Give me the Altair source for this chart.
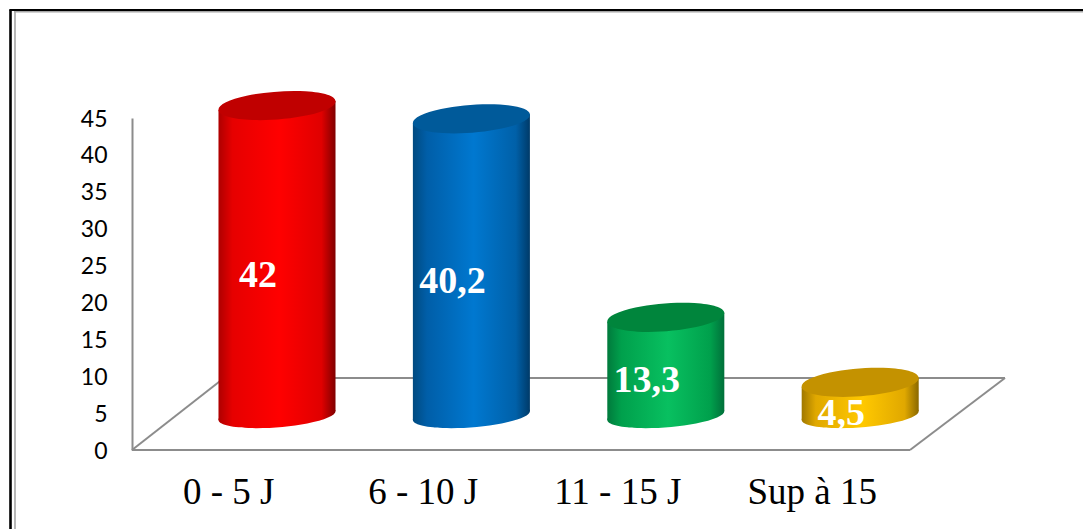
import altair as alt
import pandas as pd

CATEGORIES = ["0 - 5 J", "6 - 10 J", "11 - 15 J", "Sup à 15"]
VALUES = [42, 40.2, 13.3, 4.5]
VALUE_LABELS = ["42", "40,2", "13,3", "4,5"]
Y_TICKS = [0, 5, 10, 15, 20, 25, 30, 35, 40, 45]

# Horizontal shading of each cylinder, left edge to right edge, then its cap colour
SHADES = [
    (["#ae0000", "#e60000", "#ff0000", "#e00000", "#800000"], "#c00000"),
    (["#004a80", "#005ea8", "#0078d0", "#0060a8", "#003a68"], "#005a9a"),
    (["#007a3c", "#00a04c", "#08c060", "#00a04c", "#00703a"], "#00853c"),
    (["#a07800", "#e0a800", "#ffc800", "#e0a800", "#8a6800"], "#c49200"),
]
STOP_OFFSETS = [0, 0.12, 0.52, 0.88, 1]

W, H = 1083, 529
BODY_HALF = 0.301   # half a cylinder, in category slots
TILT = 0.61         # rise of the rim across a cylinder, in value units
LINE = "#8c8c8c"

# Tilted ellipses for the caps and the slightly flatter rounded bases
CAP = "M-0.997,0.0767A1,0.235,-4.4,1,1,0.997,-0.0767A1,0.235,-4.4,1,1,-0.997,0.0767Z"
BASE = "M-0.997,0.0767A1,0.2,-4.4,1,1,0.997,-0.0767A1,0.2,-4.4,1,1,-0.997,0.0767Z"
ELLIPSE_SIZE = (2 * 58.7) ** 2

slot_x = alt.Scale(domain=[-0.5, 3.5], range=[179.8, 957.4])
bar_y = alt.Scale(domain=[0, 45], range=[415.5, 83.4])


def gradient(colors):
    return alt.Gradient(
        gradient="linear", x1=0, x2=1, y1=0, y2=0,
        stops=[alt.GradientStop(color=c, offset=o) for c, o in zip(colors, STOP_OFFSETS)],
    )


def segment(x, x2, y, y2, color=LINE, width=2):
    return alt.Chart(pd.DataFrame({"k": [0]})).mark_rule(color=color, strokeWidth=width).encode(
        x=alt.value(x), x2=alt.value(x2), y=alt.value(y), y2=alt.value(y2)
    )


layers = [
    # page frame
    segment(10.5, 10.5, 9.5, H, "#000000", 2.6),
    segment(15, 15, 11, H, "#a6a6a6", 1.6),
    segment(9.5, W, 10, 10, "#000000", 2),
    segment(14, W, 11.8, 11.8, "#a6a6a6", 1.4),
    # floor of the chart
    segment(132, 224, 450, 378),
    segment(224, 1005, 378, 378),
    segment(1005, 910, 378, 450),
]

# Axes, with the front edge of the floor as the category axis line
cat_df = pd.DataFrame({"category": CATEGORIES, "value": VALUES})
layers.append(
    alt.Chart(cat_df).mark_point(opacity=0).encode(
        x=alt.X(
            "category:N", sort=CATEGORIES, title=None,
            scale=alt.Scale(domain=CATEGORIES, range=[131, 909]),
            axis=alt.Axis(
                offset=-79, ticks=False, domain=False, labelAngle=0, labelFont="Liberation Serif",
                labelFontSize=37, labelColor="#000000", labelPadding=24.5, grid=False,
            ),
        ),
        y=alt.Y(
            "value:Q", title=None,
            scale=alt.Scale(domain=[0, 45], range=[450, 118]),
            axis=alt.Axis(
                values=Y_TICKS, offset=-132, ticks=False, labelFont="Lato",
                labelFontSize=23, labelColor="#000000", labelPadding=25, labelOffset=1,
                domainColor=LINE, domainWidth=2, grid=False,
            ),
        ),
    )
)
# front edge of the floor
layers.append(segment(132, 910, 450, 450))

# One cylinder per category: body, rounded base, then the cap on top
for i, (value, (colors, cap)) in enumerate(zip(VALUES, SHADES)):
    fill = gradient(colors)
    body = pd.DataFrame({
        "slot": [i - BODY_HALF, i + BODY_HALF],
        "top": [value - TILT, value + TILT],
        "bottom": [-TILT, TILT],
    })
    layers.append(
        alt.Chart(body).mark_area(fill=fill, opacity=1).encode(
            x=alt.X("slot:Q", scale=slot_x, axis=None),
            y=alt.Y("top:Q", scale=bar_y, axis=None),
            y2="bottom:Q",
        )
    )
    ends = pd.DataFrame({"slot": [i], "top": [value], "bottom": [0]})
    layers.append(
        alt.Chart(ends).mark_point(
            shape=BASE, size=ELLIPSE_SIZE, filled=True, fill=fill, opacity=1, strokeWidth=0
        ).encode(
            x=alt.X("slot:Q", scale=slot_x, axis=None),
            y=alt.Y("bottom:Q", scale=bar_y, axis=None),
        )
    )
    layers.append(
        alt.Chart(ends).mark_point(
            shape=CAP, size=ELLIPSE_SIZE, filled=True, fill=cap, opacity=1, strokeWidth=0
        ).encode(
            x=alt.X("slot:Q", scale=slot_x, axis=None),
            y=alt.Y("top:Q", scale=bar_y, axis=None),
        )
    )

# Value labels sit on the middle of each cylinder
label_df = pd.DataFrame({
    "slot": list(range(len(VALUES))),
    "mid": [v / 2 for v in VALUES],
    "label": VALUE_LABELS,
})
layers.append(
    alt.Chart(label_df).mark_text(
        font="Liberation Serif", fontWeight="bold", fontSize=38, color="#ffffff",
        dx=-19, dy=15, align="center", baseline="middle",
    ).encode(
        x=alt.X("slot:Q", scale=slot_x, axis=None),
        y=alt.Y("mid:Q", scale=bar_y, axis=None),
        text="label:N",
    )
)

chart = (
    alt.layer(*layers)
    .resolve_scale(x="independent", y="independent")
    .properties(width=W, height=H, padding=0, autosize=alt.AutoSizeParams(type="none"), background="#ffffff")
    .configure_view(stroke=None)
)

chart.save("out.html", embed_options={"renderer": "svg", "actions": False})
